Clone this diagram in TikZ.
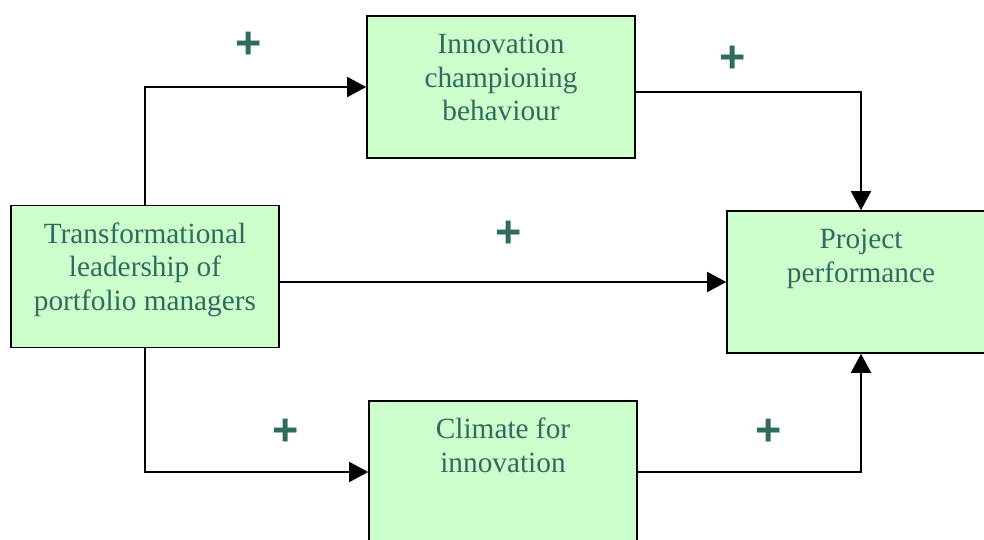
\documentclass[tikz,border=0pt]{standalone}
\usepackage{fontspec}
\setmainfont{Liberation Serif}
\newfontfamily\plusfont{Liberation Sans}
\usetikzlibrary{arrows.meta}
\definecolor{boxgreen}{HTML}{CCFFCC}
\definecolor{tealtext}{HTML}{2F6B5F}
\newcommand{\boxtext}[1]{\parbox[c][142pt][t]{268pt}{\centering\fontsize{29.3}{33.5}\selectfont\vspace*{14.5pt}\strut #1}}
\begin{document}
\begin{tikzpicture}[x=1pt,y=-1pt]

    \tikzset{
      block/.style={
        draw=black,
        line width=1.6pt,
        fill=boxgreen,
        text=tealtext,
        inner sep=0pt,
        minimum width=268pt,
        minimum height=142pt,
      },
      plus/.style={
        text=tealtext,
        font=\plusfont\bfseries\fontsize{45}{45}\selectfont,
        inner sep=0pt,
      },
      link/.style={
        line width=1.6pt,
        -{Triangle[length=19pt,width=20pt]},
      },
    }
    \clip (0,0) rectangle (984,540);
	\node[block] (icb) at (501,87) {\boxtext{Innovation\\championing\\behaviour}};
	\node[block] (tlp) at (145,276.5) {\boxtext{Transformational\\leadership of\\portfolio managers}};
	\node[block] (prp) at (861,282) {\boxtext{Project\\performance}};
	\node[block] (cfi) at (503,472) {\boxtext{Climate for\\innovation}};
	\draw[link] (tlp.north) |- (icb.west);
	\draw[link] ([yshift=-5pt]icb.east) -| (prp.north);
	\draw[link] (tlp.east |- prp.west) -- (prp.west);
	\draw[link] (tlp.south) |- (cfi.west);
	\draw[link] (cfi.east) -| (prp.south);
	\node[plus] (p1) at (249,45) {+};
	\node[plus] (p2) at (733,59) {+};
	\node[plus] (p3) at (509,234) {+};
	\node[plus] (p4) at (286,432) {+};
	\node[plus] (p5) at (769,432) {+};

\end{tikzpicture}
\end{document}
